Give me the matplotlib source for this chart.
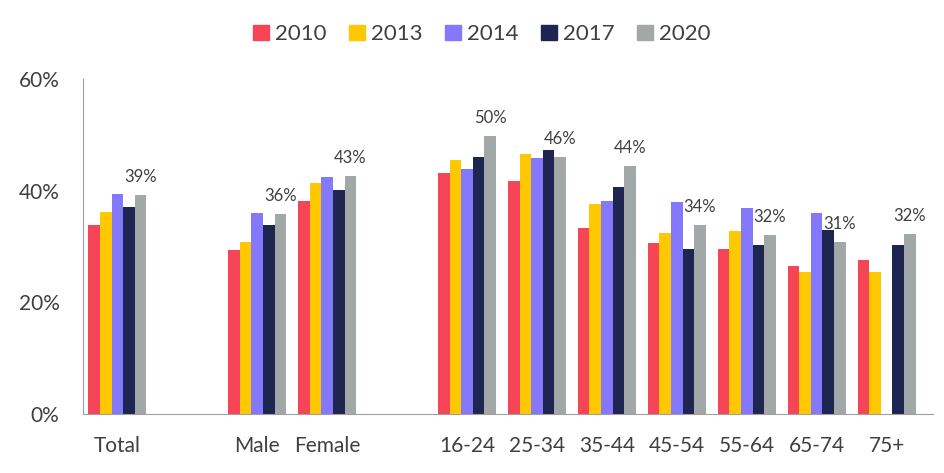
import numpy as np
import matplotlib
matplotlib.use("Agg")
import matplotlib.pyplot as plt
from matplotlib.patches import Patch

# data (percent)
categories = ["Total", "Male", "Female", "16-24", "25-34", "35-44", "45-54", "55-64", "65-74", "75+"]
slots = [0, 2, 3, 5, 6, 7, 8, 9, 10, 11]   # gaps between groups of categories
years = ["2010", "2013", "2014", "2017", "2020"]

v2010 = [33.9, 29.4, 38.2, 43.2, 41.7, 33.3, 30.6, 29.5, 26.5, 27.6]
v2013 = [36.2, 30.8, 41.4, 45.5, 46.6, 37.6, 32.4, 32.8, 25.4, 25.4]
v2014 = [39.4, 36.0, 42.5, 43.9, 45.9, 38.2, 38.0, 36.9, 36.0, np.nan]
v2017 = [37.1, 33.9, 40.1, 46.1, 47.3, 40.7, 29.5, 30.3, 33.0, 30.3]
v2020 = [39.2, 35.8, 42.7, 49.8, 46.1, 44.5, 33.9, 32.1, 30.8, 32.2]
labels2020 = ["39%", "36%", "43%", "50%", "46%", "44%", "34%", "32%", "31%", "32%"]

colors = ["#F64557", "#FFC800", "#8478FC", "#1E2551", "#A2A7A8"]
series = [v2010, v2013, v2014, v2017, v2020]

plt.rcParams['font.family'] = ['Lato', 'DejaVu Sans']
text_col = "#404040"

fig = plt.figure(figsize=(9.45, 4.73), dpi=100)
ax = fig.add_axes([0.088, 0.125, 0.899, 0.708])

x = np.array(slots)
bw = 0.166
for i, vals in enumerate(series):
    ax.bar(x + (i - 2) * bw, np.array(vals) / 100.0, width=bw, color=colors[i], label=years[i])

# value labels above the 2020 bars
for xi, v, lab in zip(x, v2020, labels2020):
    ax.annotate(lab, (xi + 2 * bw, v / 100.0), xytext=(0, 7), textcoords="offset points",
                ha="center", va="bottom", fontsize=12, color=text_col)

ax.set_ylim(0, 0.6)
ax.set_xlim(-0.49, 11.66)
ax.set_yticks([0, 0.2, 0.4, 0.6])
ax.set_yticklabels(["0%", "20%", "40%", "60%"])
ax.set_xticks(x)
ax.set_xticklabels(categories)
ax.tick_params(axis="y", length=0, pad=17, labelsize=15, labelcolor=text_col)
ax.tick_params(axis="x", length=0, pad=16, labelsize=15, labelcolor=text_col)

for s in ["top", "right"]:
    ax.spines[s].set_visible(False)
ax.spines["left"].set_color("#A0A0A0")
ax.spines["bottom"].set_color("#A0A0A0")

handles = [Patch(color=c) for c in colors]
leg = fig.legend(handles, years, loc="center", bbox_to_anchor=(0.51, 0.928), ncol=5, frameon=False,
                 fontsize=16, handlelength=0.7, handleheight=0.7, handletextpad=0.3, columnspacing=1.0)
for t in leg.get_texts():
    t.set_color(text_col)

plt.savefig("out.png", dpi=100)
